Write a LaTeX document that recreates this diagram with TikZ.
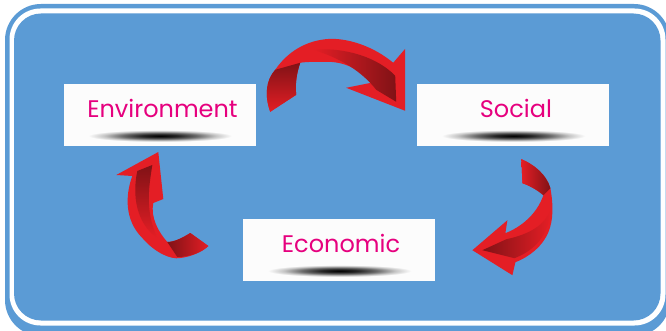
\documentclass[tikz,border=0pt]{standalone}
\usepackage{fontspec}
\setmainfont{Poppins}
\usepackage{xcolor}
\usepackage{tikz}
\usetikzlibrary{calc}
\usetikzlibrary{positioning}

\definecolor{sky}{RGB}{91,155,213}
\definecolor{ribbon}{RGB}{228,30,37}
\definecolor{ribbondk}{RGB}{128,18,22}
\definecolor{pinktext}{RGB}{230,0,126}
\definecolor{card}{RGB}{252,252,252}
\pgfdeclareradialshading{blob}{\pgfpoint{0bp}{0bp}}{color(0bp)=(black); color(6bp)=(black!85); color(12bp)=(black!58); color(18bp)=(black!22); color(23bp)=(card); color(50bp)=(card)}

\begin{document}
\begin{tikzpicture}[x=1pt,y=-1pt]
  \tikzstyle{pane}=[fill=card, minimum width=192pt, minimum height=62pt, inner sep=0pt]
  \tikzstyle{word}=[text=pinktext, font=\fontsize{24}{24}\selectfont, anchor=base, inner sep=0pt]
  \useasboundingbox (0,0) rectangle (666,331);
  \clip (0,0) rectangle (666,331);
  % frame
  \fill[sky, rounded corners=36pt] (5,4) rectangle (670,336);
  \fill[white, rounded corners=31pt] (9.5,8.5) rectangle (665.5,325.5);
  \fill[sky, rounded corners=27pt] (14,13.5) rectangle (660.5,320.5);

  \node[pane] (env) at (160,115) {};
  \node[pane] (soc) [right=161pt of env] {};
  \node[pane] (eco) at (338.5,250) {};

  \node[word] (envt) at ($(env.north)+(2.5,34)$) {Environment};
  \node[word] (soct) at ($(soc.north)+(2.5,34)$) {Social};
  \node[word] (ecot) at ($(eco.north)+(2.5,34)$) {Economic};

  \shade[shading=blob] ($(env.north)+(0,52)$) ellipse [x radius=78pt, y radius=6.5pt];
  \shade[shading=blob] ($(soc.north)+(0,52)$) ellipse [x radius=78pt, y radius=6.5pt];
  \shade[shading=blob] ($(eco.north)+(1,52)$) ellipse [x radius=78pt, y radius=6.5pt];

  % env -> soc
  \begin{scope}[shift={(env.north east)}]
    \fill[ribbon] (14,28) .. controls (8,11) and (10,-4) .. (19,-14)
      .. controls (34,-36) and (56,-45) .. (77,-45)
      .. controls (102,-44) and (124,-32) .. (137,-21)
      -- (149,-35) -- (149,27) -- (90,4) -- (115,-1)
      .. controls (104,-14) and (89,-22) .. (71,-22)
      .. controls (59,-22) and (49,-22) .. (44,-21)
      .. controls (40,-9) and (39,1) .. (40,11) -- cycle;
    \shade[top color=ribbondk, bottom color=ribbon] (14,28) .. controls (8,11) and (10,-4) .. (19,-14)
      -- (44,-21) .. controls (40,-9) and (39,1) .. (40,11) -- cycle;
    \shade[left color=ribbon, right color=ribbondk] (57,-34) .. controls (89,-37) and (122,-26) .. (139,-8)
      -- (140,18) -- (120,6) .. controls (106,-12) and (84,-26) .. (57,-34) -- cycle;
  \end{scope}

  % soc -> eco
  \begin{scope}[shift={(soc.south)}]
    \fill[ribbon] (8,13) .. controls (20,18) and (33,28) .. (37,42)
      .. controls (40,59) and (40,74) .. (35,86)
      .. controls (29,100) and (17,110) .. (2,116)
      -- (-1,129) -- (-41,104) -- (-6,74) -- (-8,87)
      .. controls (7,81) and (23,69) .. (30,49)
      .. controls (23,43) and (15,39) .. (9,37) -- cycle;
    \shade[left color=ribbon, right color=ribbondk] (8,13) .. controls (20,18) and (33,28) .. (37,42)
      -- (30,49) .. controls (23,43) and (15,39) .. (9,37) -- cycle;
    \shade[left color=ribbondk, right color=ribbon] (37,64) .. controls (35,89) and (22,104) .. (1,112)
      -- (-31,104) -- (-7,93) .. controls (17,88) and (32,78) .. (37,64) -- cycle;
  \end{scope}

  % eco -> env
  \begin{scope}[shift={(eco.west)}]
    \fill[ribbon] (-84,-98) -- (-126,-75) -- (-110,-74)
      .. controls (-117,-55) and (-118,-30) .. (-100,-12)
      .. controls (-88,2) and (-72,10) .. (-62,8)
      .. controls (-52,7) and (-40,2) .. (-34,-4)
      -- (-52,-17) .. controls (-60,-12) and (-68,-8) .. (-75,-8)
      .. controls (-84,-18) and (-92,-33) .. (-89,-47)
      -- (-79,-51) -- cycle;
    \shade[left color=ribbondk, right color=ribbon] (-75,-8) -- (-65,7)
      .. controls (-52,7) and (-40,2) .. (-34,-4)
      -- (-52,-17) .. controls (-60,-12) and (-68,-8) .. (-75,-8) -- cycle;
    \shade[top color=ribbondk, bottom color=ribbon] (-105,-79) -- (-90,-85)
      .. controls (-93,-65) and (-98,-40) .. (-85,-12)
      .. controls (-100,-22) and (-112,-45) .. (-105,-79) -- cycle;
  \end{scope}
\end{tikzpicture}
\end{document}
